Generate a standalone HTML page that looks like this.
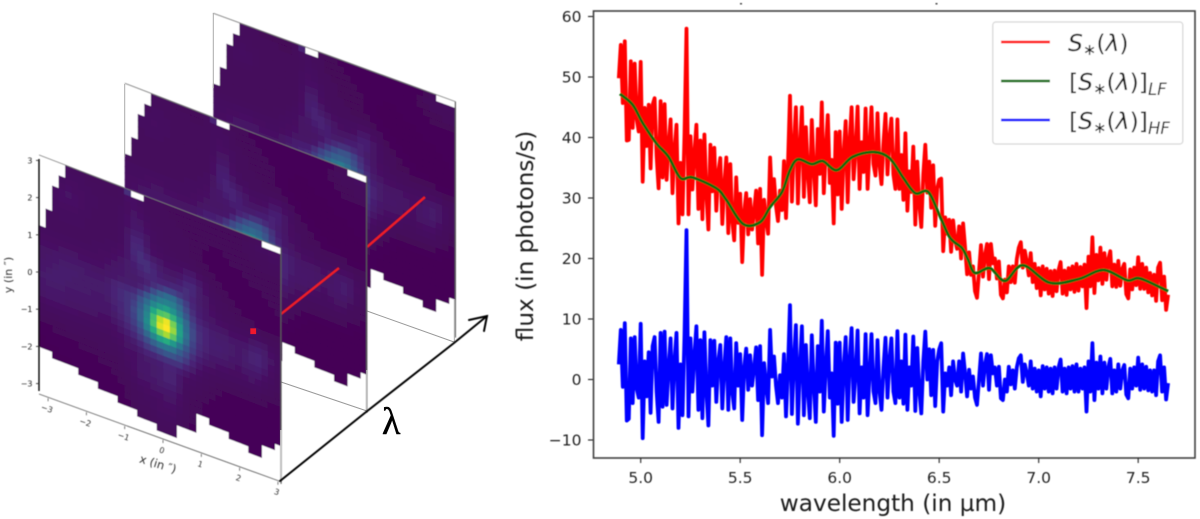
<!DOCTYPE html>
<html lang="en">
<head>
<meta charset="utf-8">
<title>Spectral cube and flux decomposition</title>
<style>
html,body{margin:0;padding:0;background:#fff;width:1200px;height:519px;overflow:hidden}
svg{display:block}
text{font-family:"DejaVu Sans","Liberation Sans",sans-serif}
</style>
</head>
<body>
<svg id="fig" xmlns="http://www.w3.org/2000/svg" width="1200" height="519" viewBox="0 0 1200 519">
<defs>
<filter id="soft" x="-5%" y="-5%" width="110%" height="110%"><feGaussianBlur stdDeviation="0.55"/></filter>
<filter id="softer" x="-5%" y="-5%" width="110%" height="110%"><feGaussianBlur stdDeviation="0.4"/></filter>
</defs>
<g id="cube"></g>
<g id="spectrum"></g>
</svg>
<script>
const _ = null;
/* spatial image: intensity in percent of the colour scale; null = no data */
const imageRows = [
[_,_,_,_,7,7,7,6,6,6,6,6,7,22,_,_,6,6,6,5,5,5,5,5,5,5,5,5,5,5,5,5,6,7,_,_,_],
[_,_,_,_,8,8,8,7,7,7,6,6,7,10,10,8,7,6,6,6,5,5,5,5,5,5,5,5,5,5,5,6,7,8,8,9,9],
[_,_,_,8,9,9,8,8,7,7,7,7,7,9,10,9,7,6,6,6,6,5,5,5,5,5,5,5,5,5,5,6,6,7,7,8,8],
[_,_,_,9,10,9,9,8,8,7,7,7,8,9,11,10,8,7,6,6,6,6,5,5,5,5,5,5,5,5,5,5,6,6,6,7,7],
[_,_,9,10,11,10,9,8,8,7,7,7,8,10,12,11,9,7,7,6,6,6,6,5,5,5,4,4,5,5,5,5,5,6,6,6,6],
[_,_,9,10,10,10,9,8,7,7,7,7,8,10,13,13,10,8,7,6,6,6,6,5,5,4,4,4,4,5,5,5,5,5,5,5,5],
[_,_,8,9,9,9,8,8,7,7,7,7,8,11,15,15,11,8,7,7,6,6,6,5,5,4,4,4,4,4,4,5,5,5,5,5,5],
[_,_,8,8,8,8,8,7,7,7,7,7,8,12,18,18,12,9,8,7,7,6,6,6,5,5,4,4,4,4,4,4,5,5,5,5,5],
[_,7,7,8,8,8,8,7,7,7,7,7,8,12,19,20,14,10,9,8,8,8,8,7,6,5,5,4,4,4,4,4,4,4,5,5,5],
[_,7,7,7,7,7,7,7,7,7,8,8,9,13,20,22,18,14,12,10,10,10,12,12,9,7,5,5,4,4,4,4,4,4,4,5,5],
[_,7,7,7,7,7,7,7,8,8,8,9,10,13,18,22,22,18,14,12,11,12,16,16,12,9,6,5,5,4,4,4,4,4,4,4,5],
[8,8,8,8,8,8,8,8,8,9,9,10,11,14,16,20,22,20,16,14,14,16,20,20,14,10,7,6,5,5,4,4,4,4,4,4,4],
[9,9,9,9,9,9,9,9,9,9,10,11,12,14,15,17,19,20,18,18,20,20,22,20,14,11,8,7,6,5,5,4,4,4,4,4,4],
[10,10,10,11,11,11,10,10,10,10,11,12,13,14,14,15,17,22,26,30,30,26,22,18,14,11,9,7,6,6,5,5,5,4,4,4,4],
[11,11,12,12,13,13,12,12,11,11,12,13,14,15,15,17,24,34,42,46,46,38,28,20,15,12,10,8,7,7,6,6,6,6,5,5,5],
[11,12,13,14,14,14,14,13,13,13,14,17,19,20,21,28,38,46,52,54,52,44,32,22,16,13,11,10,9,8,8,8,8,8,7,6,6],
[12,13,14,15,15,15,14,14,14,14,15,18,21,23,26,36,46,56,62,66,60,50,38,26,18,15,13,12,11,10,10,10,11,12,11,8,7],
[13,14,15,15,15,14,14,14,14,14,15,18,21,24,29,40,52,68,78,80,72,58,44,30,21,18,15,14,14,13,12,13,15,16,14,10,8],
[14,15,15,15,14,14,14,14,13,13,14,17,20,24,31,42,56,76,92,98,84,64,46,32,22,18,16,15,15,14,13,14,17,18,15,11,8],
[13,14,14,14,13,13,13,13,13,13,13,16,19,23,30,42,58,78,96,100,88,66,48,32,22,18,16,16,15,14,13,15,17,18,15,10,8],
[12,13,13,13,12,12,12,12,12,12,12,14,17,22,28,38,54,70,84,90,80,62,44,30,21,17,15,15,14,13,12,14,15,16,13,9,7],
[11,12,12,12,11,11,11,11,11,10,10,12,15,19,24,32,44,56,66,70,62,50,38,27,19,15,13,13,12,11,10,12,13,13,10,8,6],
[9,10,10,10,10,10,9,9,9,9,9,10,12,16,20,26,34,42,48,50,48,40,31,22,16,13,11,10,10,9,9,10,11,10,8,7,6],
[7,8,8,8,8,8,8,8,8,8,8,9,10,13,15,20,26,30,34,38,36,32,26,18,13,10,9,8,8,8,8,8,8,8,7,6,5],
[6,6,6,7,7,7,7,7,7,7,7,8,9,11,12,15,18,20,22,24,24,24,18,14,10,8,7,7,6,6,6,6,6,6,5,5,5],
[5,5,5,5,6,6,6,6,6,6,7,7,8,10,10,12,14,15,16,18,18,16,12,10,8,7,6,5,5,5,5,5,5,5,5,4,4],
[4,4,5,5,5,5,5,5,5,6,6,6,7,9,10,12,13,14,15,17,17,13,9,8,7,6,5,5,4,4,4,4,4,4,4,4,4],
[4,4,4,4,4,4,5,5,5,5,5,5,6,8,10,12,13,14,15,17,17,12,8,7,6,5,5,4,4,4,4,4,4,4,4,4,4],
[3,4,4,4,4,4,4,4,4,5,5,5,6,7,9,11,12,13,14,15,15,11,7,6,5,5,4,4,4,4,4,4,4,4,4,4,4],
[3,3,3,4,4,4,4,4,4,4,4,5,5,6,8,10,10,11,12,13,13,10,7,5,5,4,4,4,4,4,4,4,4,4,4,4,4],
[_,_,3,3,3,4,4,4,4,4,4,4,5,5,7,8,9,10,10,11,11,9,6,5,5,4,4,4,4,4,4,4,4,4,4,4,4],
[_,_,_,_,_,_,3,4,4,4,4,4,4,5,6,7,8,8,9,10,10,8,6,5,_,_,4,4,4,4,4,4,4,4,4,4,_],
[_,_,_,_,_,_,_,_,_,4,4,4,4,5,6,7,7,8,9,9,9,7,6,5,_,_,_,_,_,4,4,4,4,4,_,_,_],
[_,_,_,_,_,_,_,_,_,_,_,_,4,4,5,6,6,7,8,8,8,6,5,4,_,_,_,_,_,_,_,_,4,4,_,_,_],
[_,_,_,_,_,_,_,_,_,_,_,_,_,_,_,5,5,6,7,7,7,_,_,_,_,_,_,_,_,_,_,_,_,_,_,_,_],
[_,_,_,_,_,_,_,_,_,_,_,_,_,_,_,_,_,_,6,6,6,_,_,_,_,_,_,_,_,_,_,_,_,_,_,_,_],
[_,_,_,_,_,_,_,_,_,_,_,_,_,_,_,_,_,_,_,_,_,_,_,_,_,_,_,_,_,_,_,_,_,_,_,_,_]
];
const imageYTicks = [3,2,1,0,-1,-2,-3];
const imageXTicks = [-3,-2,-1,0,1,2,3];

/* spectrum */
const wavelengths = [4.89,4.9,4.91,4.92,4.93,4.94,4.95,4.96,4.97,4.98,4.99,5,5.01,5.02,5.03,5.04,5.05,5.06,5.07,5.08,5.09,5.1,5.11,5.12,5.13,5.14,5.15,5.16,5.17,5.18,5.19,5.2,5.21,5.22,5.23,5.24,5.25,5.26,5.27,5.28,5.29,5.3,5.31,5.32,5.33,5.34,5.35,5.36,5.37,5.38,5.39,5.4,5.41,5.42,5.43,5.44,5.45,5.46,5.47,5.48,5.49,5.5,5.51,5.52,5.53,5.54,5.55,5.56,5.57,5.58,5.59,5.6,5.61,5.62,5.63,5.64,5.65,5.66,5.67,5.68,5.69,5.7,5.71,5.72,5.73,5.74,5.75,5.76,5.77,5.78,5.79,5.8,5.81,5.82,5.83,5.84,5.85,5.86,5.87,5.88,5.89,5.9,5.91,5.92,5.93,5.94,5.95,5.96,5.97,5.98,5.99,6,6.01,6.02,6.03,6.04,6.05,6.06,6.07,6.08,6.09,6.1,6.11,6.12,6.13,6.14,6.15,6.16,6.17,6.18,6.19,6.2,6.21,6.22,6.23,6.24,6.25,6.26,6.27,6.28,6.29,6.3,6.31,6.32,6.33,6.34,6.35,6.36,6.37,6.38,6.39,6.4,6.41,6.42,6.43,6.44,6.45,6.46,6.47,6.48,6.49,6.5,6.51,6.52,6.53,6.54,6.55,6.56,6.57,6.58,6.59,6.6,6.61,6.62,6.63,6.64,6.65,6.66,6.67,6.68,6.69,6.7,6.71,6.72,6.73,6.74,6.75,6.76,6.77,6.78,6.79,6.8,6.81,6.82,6.83,6.84,6.85,6.86,6.87,6.88,6.89,6.9,6.91,6.92,6.93,6.94,6.95,6.96,6.97,6.98,6.99,7,7.01,7.02,7.03,7.04,7.05,7.06,7.07,7.08,7.09,7.1,7.11,7.12,7.13,7.14,7.15,7.16,7.17,7.18,7.19,7.2,7.21,7.22,7.23,7.24,7.25,7.26,7.27,7.28,7.29,7.3,7.31,7.32,7.33,7.34,7.35,7.36,7.37,7.38,7.39,7.4,7.41,7.42,7.43,7.44,7.45,7.46,7.47,7.48,7.49,7.5,7.51,7.52,7.53,7.54,7.55,7.56,7.57,7.58,7.59,7.6,7.61,7.62,7.63,7.64,7.65];
const totalFlux = [49.8,55.3,45.7,55.9,39.5,39.6,52.6,41.6,52.2,43.1,
41,52.5,32.7,44.9,38.6,45.4,34.9,45.4,46.5,37,
31.6,46,33.4,45.5,33,38.8,43,30.8,38,42.1,
25.8,35.8,27.3,40.4,58,27.3,40.2,31.4,37.4,42.1,
28.2,39.5,26.5,40.5,30.6,24.8,38.8,31.1,38.3,27.9,
34.2,36.6,25.7,32.1,36.7,24.2,35.6,26.3,23,33.4,
25.9,30.7,19.4,27.7,30.8,24,29.8,24.8,27.8,31.2,
22.5,31.5,17.3,29.7,26.5,24.1,36.7,29.4,33.1,28.7,
26.2,31.2,28,36.1,26.7,35.7,46.9,29.4,38.5,45,
29.1,38.3,45,30.2,41.7,33.9,29.3,42.9,34.7,28.8,
41.4,34,45.8,30.8,37.9,43.7,32.5,36.3,25.8,40.9,
30.6,41,28.2,37.4,42.7,29.3,39.2,45,33.1,37.9,
45.1,31.5,39.2,34.3,44.8,31.5,38.5,45,35.6,33.7,
44,35.4,32.3,39.1,43.9,33.9,39.9,43.1,33.9,31.5,
43,31.5,37.1,29.7,40.7,27.9,34.4,31,38.5,25.6,
36,28.8,25.2,33.9,38.8,30.9,36,28.4,35.4,25.4,
31.5,33,33.2,21.2,26.8,24.1,26.4,21.1,26.3,23,
21.6,25.3,20,25.8,21.8,17.4,21,17.3,18.7,14.6,
13.5,17.8,22.2,17,20.6,22.4,16.6,22.4,19.2,20,
16.7,19.5,14,13.4,16.5,14.4,18.7,16.1,18.7,16,
19.9,21.8,22.7,18.5,21.3,19.5,17.2,20.9,16.1,19.1,
15.1,18.4,13.9,18.7,14.9,18.3,14.2,17.9,13.8,18,
14.6,18.1,19.4,14.2,18,14,18.4,14.9,18.7,14.5,
19.1,14.7,18.6,15.4,19,11.8,20.3,15.4,23.5,14.3,
20.6,16.4,21.8,15.8,20.9,16.5,19.9,21.2,15.4,19,
15.3,19.6,15.5,18.3,19.1,14.1,13.4,18.2,14.9,18.5,
15.6,20.2,15,19.1,15,18.5,14.4,17.6,13.9,17.3,
13,18.5,19.3,13.1,17,11.5,14];
const highFreqFlux = [2.5,8.2,-1.2,9.3,-6.8,-6.5,6.8,-3.9,7,-1.5,
-3,9.2,-9.7,3,-2.8,4.5,-5.5,5.5,7,-2,
-7,7.7,-4.5,7.9,-4.2,2,6.8,-4.8,3,7.7,
-8,2.5,-5.9,7.2,24.7,-6.1,6.8,-2,4,8.8,
-5,6.5,-6.4,7.8,-2,-7.6,6.5,-1,6.4,-3.7,
3,5.7,-4.8,2,7,-5,6.8,-2,-4.8,6,
-1,4.2,-6.7,2,5.1,-1.7,4,-1,2,5.3,
-3.4,5.5,-9.2,2.7,-1,-3.9,8.2,0.5,3.8,-1,
-3.9,0.7,-3,4.2,-6.1,2,12.3,-5.7,3,9,
-7.3,2,8.8,-5.9,5.7,-2,-6.4,7.3,-1,-7,
5.5,-2,9.7,-5.3,2,8,-3,1,-9.3,6.1,
-4,6.1,-7,2,7,-6.7,3,8.5,-3.7,1,
8.1,-5.6,2,-3,7.5,-5.9,1,7.5,-2,-3.9,
6.5,-2,-5,2,6.9,-3,3.2,6.8,-2,-3.9,
8,-3,3,-4,7.4,-5,2,-1,7.1,-5.2,
5.2,-2,-5.6,3,7.9,0,5,-2.6,4.9,-4.4,
3,5,6,-5.3,1,-1,2,-2.6,3,0,
-1,3,-2,4.3,1,-2.8,1.6,-1.5,0.5,-3,
-4.2,0,4.3,-1,2.5,4.2,-1.7,4,1,2,
-1,2.1,-3.1,-3.4,0,-2,2.1,-0.8,1.5,-1.5,
2,3.5,4,-0.4,2.5,1,-1,3,-1.5,1.8,
-2,1.5,-2.8,2.2,-1.5,2,-2,1.8,-2.3,2,
-1.5,2,3.3,-2,1.8,-2.3,2,-1.5,2.2,-2,
2.5,-2,1.8,-1.5,2,-5.3,3,-2,6,-3.4,
2.8,-1.5,3.8,-2.3,2.8,-1.5,2,3.4,-2.3,1.5,
-2,2.5,-1.5,1.5,2.4,-2.5,-3.1,1.8,-1.5,2,
-1,3.6,-1.7,2.5,-1.5,2.1,-1.8,1.5,-2,1.5,
-2.6,3,4,-2,2,-3.3,-0.6];
const lowFreqWavelengths = [4.896,4.96,5.01,5.08,5.14,5.2,5.26,5.38,5.43,5.515,5.6,5.65,5.71,5.75,5.79,5.86,5.915,5.985,6.065,6.17,6.25,6.32,6.38,6.445,6.505,6.555,6.615,6.645,6.68,6.755,6.83,6.92,7.055,7.2,7.325,7.445,7.51,7.65];
const lowFreqFlux = [47.2,45.4,42.4,39,36.8,33.3,33.4,31.6,29.7,25.7,26,28.5,31,34.6,36.4,35.6,36.1,34.6,36.8,37.6,36.6,33.3,30.8,31,26.9,23.4,21.7,19.8,17.6,18.4,16.3,18.9,16,16.6,18.1,16.4,16.7,14.6];
const xTickValues = [5,5.5,6,6.5,7,7.5];
const xTickLabels = ["5.0","5.5","6.0","6.5","7.0","7.5"];
const yTickValues = [60,50,40,30,20,10,0,-10];
const yTickLabels = ["60","50","40","30","20","10","0","\u221210"];

const NS = "http://www.w3.org/2000/svg";
function mk(parent, tag, attrs, txt){
  const e = document.createElementNS(NS, tag);
  for (const k in attrs) e.setAttribute(k, attrs[k]);
  if (txt !== undefined) e.textContent = txt;
  parent.appendChild(e);
  return e;
}

/* ---------- viridis with power-law colour normalisation ---------- */
const viridisStops = [[68,1,84],[72,36,117],[65,68,135],[53,95,141],[42,120,142],[33,145,140],[34,168,132],[68,191,112],[122,209,81],[189,223,38],[253,231,37]];
function viridis(p){
  const n = Math.pow(Math.max(0, Math.min(1, p/100)), 1.35);
  const t = n*10, i = Math.min(9, Math.floor(t)), f = t-i;
  const a = viridisStops[i], b = viridisStops[i+1];
  return "rgb("+[0,1,2].map(k => Math.round(a[k]+(b[k]-a[k])*f)).join(",")+")";
}

/* ---------- image cube ---------- */
const cube = document.getElementById("cube");
const COLS = 37, CELLW = 242/37, CELLH = 236/37;
function drawPanel(name, ox, oy, slope, scale){
  const g = mk(cube, "g", {filter:"url(#soft)"});
  
  
  const inner = mk(g, "g", {transform:`matrix(${CELLW},${CELLW*slope},0,${CELLH},${ox},${oy})`});
  mk(inner, "rect", {x:0,y:0,width:COLS,height:COLS,fill:"#fff"});
  imageRows.forEach((row, r) => row.forEach((v, c) => {
    if (v === null || v === undefined) return;
    const cell = mk(inner, "rect", {x:c,y:r,width:1.08,height:1.08,fill:viridis(v*scale)});
    
    
  }));
  const frame = mk(g, "g", {fill:"none"});
  
  
  const W = 242, H = 236;
  mk(frame, "line", {x1:ox,y1:oy,x2:ox+W,y2:oy+W*slope,stroke:"#777","stroke-width":0.9});
  mk(frame, "line", {x1:ox+W,y1:oy+W*slope,x2:ox+W,y2:oy+W*slope+H,stroke:"#5a5a5a","stroke-width":1.3});
  return g;
}
drawPanel("back-image-panel", 213.3, 13.3, 0.365, 0.78);
const backFloor = mk(cube, "line", {x1:367,y1:311,x2:454,y2:342,stroke:"#999","stroke-width":1});


const backPost = mk(cube, "line", {x1:454.3,y1:300,x2:454.3,y2:342,stroke:"#aaa","stroke-width":1});


const backLeft = mk(cube, "line", {x1:213.3,y1:13,x2:213.3,y2:88,stroke:"#aaa","stroke-width":1});



const line2 = mk(cube, "line", {x1:367,y1:247,x2:425,y2:197,stroke:"#ee1c25","stroke-width":2.6,filter:"url(#softer)"});



drawPanel("middle-image-panel", 124.7, 83.3, 0.385, 0.82);
const midFloor = mk(cube, "line", {x1:281,y1:382,x2:367,y2:411,stroke:"#999","stroke-width":1});


const midPost = mk(cube, "line", {x1:367,y1:370,x2:367,y2:411,stroke:"#c4c4c4","stroke-width":1.4});


const midLeft = mk(cube, "line", {x1:124.7,y1:84,x2:124.7,y2:157,stroke:"#aaa","stroke-width":1});



const line1 = mk(cube, "line", {x1:281,y1:314,x2:339,y2:268,stroke:"#ee1c25","stroke-width":2.6,filter:"url(#softer)"});



drawPanel("front-image-panel", 39, 155, 0.384, 1);

const frontPost = mk(cube, "line", {x1:281,y1:430,x2:281,y2:481,stroke:"#cfcfcf","stroke-width":1.6});


const pixel = mk(cube, "rect", {x:250.3,y:328.3,width:5.8,height:5.8,fill:"#f0182c"});



/* image axes */
const imgAxes = mk(cube, "g", {filter:"url(#softer)"});


mk(imgAxes, "line", {x1:39,y1:159,x2:39,y2:391,stroke:"#000","stroke-width":1.4});
mk(imgAxes, "line", {x1:39,y1:394,x2:279,y2:481,stroke:"#666","stroke-width":0.9});
function imgY(v){ return 272 - v*37.2; }
function imgXx(v){ return 163 + v*38.3; }
function imgXy(v){ return 450 + v*13.9; }
imageYTicks.forEach(v => {
  const y = imgY(v);
  mk(imgAxes, "line", {x1:36,y1:y,x2:39,y2:y,stroke:"#222","stroke-width":0.8});
  const t = mk(imgAxes, "text", {x:32.5,y:y+3,"text-anchor":"end","font-size":8,fill:"#222"}, String(v).replace("-","\u2212"));
  
  
});
imageXTicks.forEach(v => {
  const x = imgXx(v), y = imgXy(v);
  mk(imgAxes, "line", {x1:x,y1:y-10,x2:x,y2:y-7,stroke:"#444","stroke-width":0.7});
  const t = mk(imgAxes, "text", {x:x-1,y:y+3,"text-anchor":"middle","font-size":8,fill:"#333",transform:`rotate(18 ${x-1} ${y})`}, String(v).replace("-","\u2212"));
  
  
});
const xTitle = mk(imgAxes, "text", {x:158,y:468,"text-anchor":"middle","font-size":11.5,fill:"#333",transform:"rotate(17 158 464)"}, "x (in \u2033)");


const yTitle = mk(imgAxes, "text", {x:0,y:0,"text-anchor":"middle","font-size":11,fill:"#333",transform:"translate(12 275) rotate(-90)"}, "y (in \u2033)");



/* wavelength arrow */
const arrow = mk(cube, "g", {fill:"none",stroke:"#000","stroke-width":2,"stroke-linecap":"round",filter:"url(#softer)"});


mk(arrow, "path", {d:"M280 481L366 412L454 343L487 316"});
mk(arrow, "path", {d:"M469 320L487 316L484 331"});
const lam = mk(cube, "text", {x:382,y:434,"font-size":38,fill:"#000",stroke:"#000","stroke-width":0.5,style:'font-family:"Liberation Serif","DejaVu Serif",serif'}, "\u03bb");



/* ---------- spectrum chart ---------- */
const sp = document.getElementById("spectrum");
function xScale(w){ return 640.7 + (w-5)*199; }
function yScale(f){ return 379.5 - f*6.05; }
function polyPoints(xs, ys){ return xs.map((x,i) => xScale(x).toFixed(1)+","+yScale(ys[i]).toFixed(1)).join(" "); }
function smoothPath(xs, ys){
  const p = xs.map((x,i) => [xScale(x), yScale(ys[i])]);
  let d = "M"+p[0][0].toFixed(1)+" "+p[0][1].toFixed(1);
  for (let i = 0; i < p.length-1; i++){
    const a = p[Math.max(0,i-1)], b = p[i], c = p[i+1], e = p[Math.min(p.length-1,i+2)];
    d += "C"+(b[0]+(c[0]-a[0])/6).toFixed(1)+" "+(b[1]+(c[1]-a[1])/6).toFixed(1)+" "+(c[0]-(e[0]-b[0])/6).toFixed(1)+" "+(c[1]-(e[1]-b[1])/6).toFixed(1)+" "+c[0].toFixed(1)+" "+c[1].toFixed(1);
  }
  return d;
}
const plot = mk(sp, "g", {filter:"url(#softer)"});



const redLine = mk(plot, "polyline", {points:polyPoints(wavelengths,totalFlux),fill:"none",stroke:"#ff0000","stroke-width":3.8,"stroke-linejoin":"round"});


const greenLine = mk(plot, "path", {d:smoothPath(lowFreqWavelengths,lowFreqFlux),fill:"none",stroke:"#086a08","stroke-width":3});


const blueLine = mk(plot, "polyline", {points:polyPoints(wavelengths,highFreqFlux),fill:"none",stroke:"#0000ff","stroke-width":3.8,"stroke-linejoin":"round"});



const box = mk(plot, "rect", {x:593.5,y:11,width:601.5,height:447,fill:"none",stroke:"#404040","stroke-width":1.6});



xTickValues.forEach((v,i) => {
  const x = xScale(v);
  const tick = mk(plot, "line", {x1:x,y1:458,x2:x,y2:463,stroke:"#222","stroke-width":1.1});
  
  
  const t = mk(plot, "text", {x:x,y:483,"text-anchor":"middle","font-size":15.5,fill:"#222"}, xTickLabels[i]);
  
  
});
yTickValues.forEach((v,i) => {
  const y = yScale(v);
  const tick = mk(plot, "line", {x1:588,y1:y,x2:593,y2:y,stroke:"#222","stroke-width":1.1});
  
  
  const t = mk(plot, "text", {x:581.5,y:y+5.6,"text-anchor":"end","font-size":15.5,fill:"#222"}, yTickLabels[i]);
  
  
});
const xAxisTitle = mk(plot, "text", {x:893,y:511,"text-anchor":"middle","font-size":23.2,fill:"#1c1c1c"}, "wavelength (in \u00b5m)");


const yAxisTitle = mk(plot, "text", {x:0,y:0,"text-anchor":"middle","font-size":23.2,fill:"#1c1c1c",transform:"translate(533 236) rotate(-90)"}, "flux (in photons/s)");


const topMarkA = mk(plot, "rect", {x:740,y:3,width:2,height:1.5,fill:"#444"});


const topMarkB = mk(plot, "rect", {x:935.5,y:3,width:2,height:1.5,fill:"#444"});



/* legend */
const legend = mk(plot, "g", {});


const legendBox = mk(legend, "rect", {x:992.8,y:22,width:190,height:122,rx:3,ry:3,fill:"#fff",stroke:"#d6d6d6","stroke-width":1.2});



const legendLine1 = mk(legend, "line", {x1:1001,y1:42,x2:1050,y2:42,stroke:"#ff0000","stroke-width":2.4});


const legendLine2 = mk(legend, "line", {x1:1001,y1:81,x2:1050,y2:81,stroke:"#086a08","stroke-width":2.4});


const legendLine3 = mk(legend, "line", {x1:1001,y1:120,x2:1050,y2:120,stroke:"#0000ff","stroke-width":2.4});



function legendText(name, x, y, open, close, sub){
  const t = mk(legend, "text", {x:x,y:y,"font-size":23.5,fill:"#1c1c1c"});
  
  
  if (open) mk(t, "tspan", {}, open);
  mk(t, "tspan", {"font-style":"italic"}, "S");
  mk(t, "tspan", {"font-size":16,dy:4}, "\u2217");
  mk(t, "tspan", {dy:-4}, "(");
  mk(t, "tspan", {"font-style":"italic"}, "\u03bb");
  mk(t, "tspan", {}, ")"+close);
  if (sub) mk(t, "tspan", {"font-size":16.5,"font-style":"italic",dy:5}, sub);
}
legendText("legend-label-total", 1068, 51, "", "", "");
legendText("legend-label-low-frequency", 1069, 90, "[", "]", "LF");
legendText("legend-label-high-frequency", 1069, 129, "[", "]", "HF");
</script>
</body>
</html>
